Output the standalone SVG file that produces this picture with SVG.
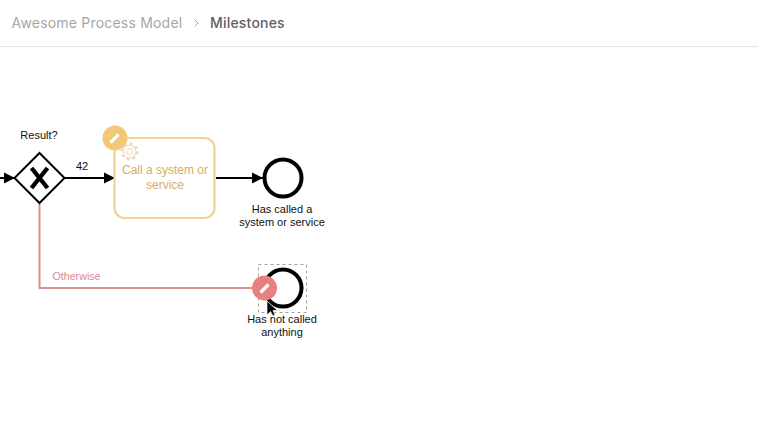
<svg xmlns="http://www.w3.org/2000/svg" width="758" height="430" viewBox="0 0 758 430">
<style>
text{font-family:"Liberation Sans",Arial,sans-serif;font-size:11px;fill:#111;text-anchor:middle}
.crumb{font-family:"Inter","Noto Sans",sans-serif;font-size:14px;text-anchor:start}
.flow{fill:none;stroke:#000;stroke-width:2}
.pen{fill:none;stroke:#fff;stroke-width:3.200}
.label{font-size:12px;fill:#d3af66}
</style>
<defs>
<marker id="arrow" markerWidth="12" markerHeight="12" refX="11" refY="6" orient="auto" markerUnits="userSpaceOnUse"><path d="M0 0.500L11 6L0 11.500Z" fill="#000"/></marker>
</defs>
<rect width="758" height="430" fill="#fff"/>
<g id="header">
<text class="crumb" x="11.500" y="28" style="fill:#a6a6a6;letter-spacing:.2px">Awesome Process Model</text>
<path d="M194.500 19.500L198 23L194.500 26.500" fill="none" stroke="#a6a6a6" stroke-width="1"/>
<text class="crumb" x="210" y="28" style="fill:#616161;font-weight:500;letter-spacing:.2px">Milestones</text>
<path d="M0 46.500H758" stroke="#e4e4e4" stroke-width="1"/>
</g>
<g id="connectors">
<path class="flow" d="M0 178H15" marker-end="url(#arrow)"/>
<path class="flow" d="M65 178H115" marker-end="url(#arrow)"/>
<path class="flow" d="M216 178H263" marker-end="url(#arrow)"/>
<path d="M39.500 204V288H255" fill="none" stroke="#d59292" stroke-width="2"/>
<text x="82" y="170">42</text>
<text x="76.500" y="280" style="fill:#da8a8a;font-size:10.700px">Otherwise</text>
</g>
<g id="gateway">
<path d="M39.500 153L64.500 178L39.500 203L14.500 178Z" fill="#fff" stroke="#000" stroke-width="2"/>
<path d="M31.500 168L47.500 188M47.500 168L31.500 188" stroke="#000" stroke-width="4.400" fill="none"/>
<text x="39" y="139">Result?</text>
</g>
<g id="task">
<rect x="114.500" y="138" width="100" height="80" rx="10" fill="#fff" stroke="#f2d492" stroke-width="2.200"/>
<g fill="none" stroke="#ecd9ae">
<circle cx="129.500" cy="151.500" r="3.200" stroke-width="1"/>
<circle cx="129.500" cy="151.500" r="6.500" stroke-width="1"/>
<circle cx="129.500" cy="151.500" r="7.800" stroke-width="2.400" stroke-dasharray="2.700 3.430"/>
</g>
<text class="label" x="165" y="174">Call a system or</text>
<text class="label" x="165" y="189">service</text>
<circle cx="115" cy="138" r="12.500" fill="#f2c877"/>
<path class="pen" d="M110.500 142.500L118.500 134.500"/>
</g>
<g id="end-called">
<circle cx="283" cy="178" r="18.500" fill="#fff" stroke="#000" stroke-width="4"/>
<text x="282" y="213">Has called a</text>
<text x="282" y="226">system or service</text>
</g>
<g id="end-not-called">
<rect x="258.500" y="264.500" width="48" height="48" fill="none" stroke="#a89c9c" stroke-width="1" stroke-dasharray="3 3"/>
<circle cx="283" cy="288" r="18.500" fill="#fff" stroke="#000" stroke-width="4"/>
<circle cx="264.500" cy="288" r="12.500" fill="#e88080"/>
<path class="pen" d="M260.500 292.500L268.500 284.500"/>
<text x="282" y="323">Has not called</text>
<text x="282" y="336">anything</text>
<path d="M267 301L267 315L270.500 311.500L273 316L275 315L273 310.500L277.500 310.500Z" fill="#000" stroke="#fff" stroke-width=".7"/>
</g>
</svg>
